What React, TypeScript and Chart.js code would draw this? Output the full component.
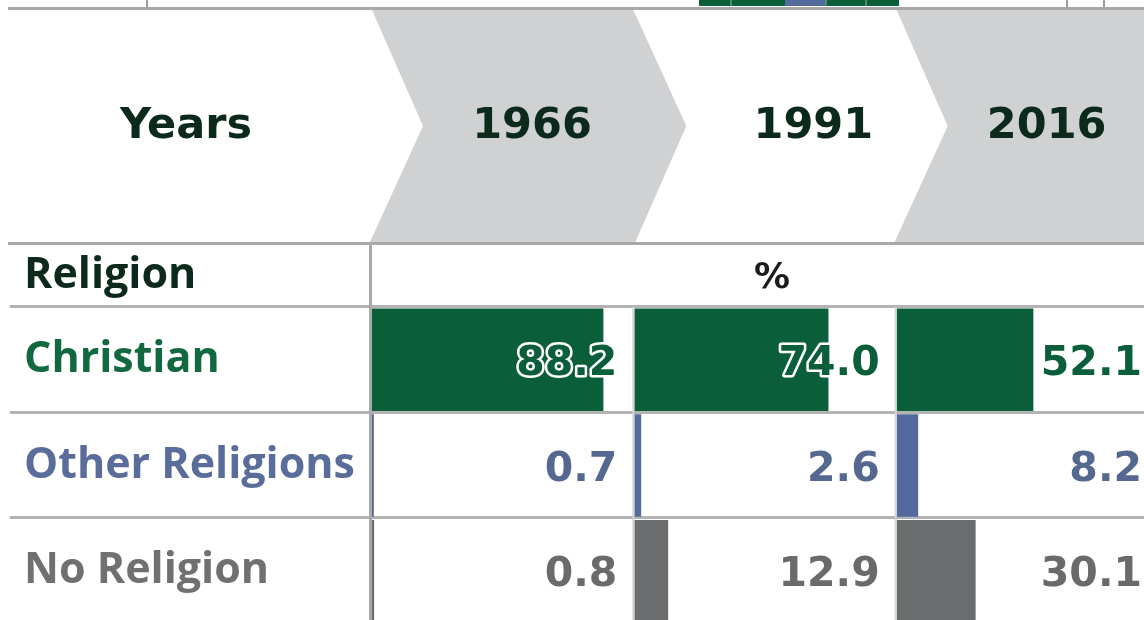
import React, { useEffect, useRef } from 'react';
import { Chart, registerables } from 'chart.js';

Chart.register(...registerables);

// ---- data ----
const years = ['1966', '1991', '2016'];
const religions = ['Christian', 'Other Religions', 'No Religion'];
const christian = [88.2, 74.0, 52.1];
const otherReligions = [0.7, 2.6, 8.2];
const noReligion = [0.8, 12.9, 30.1];
const headerLabel = 'Years';
const rowHeaderLabel = 'Religion';
const unitLabel = '%';

// ---- styles ----
const barColors = ['#0b5e3a', '#536a9c', '#6a6c6e'];
const labelColors = ['#12683f', '#5a6d9a', '#707070'];
const numberColors = ['#0b5e3a', '#55688f', '#6a6a6a'];
const headerText = '#0c2a1b';
const headerGray = '#d0d1d3';
const lineGray = '#b3b3b3';
const NUM_FONT = 'bold 41px "DejaVu Sans"';
const HEAD_FONT = 'bold 43px "DejaVu Sans"';
const LABEL_FAMILY = '"Open Sans"';

const tablePlugin = {
  id: 'tableDecor',
  beforeDraw(chart: any) {
    const ctx = chart.ctx;
    const W = chart.width;
    const xs = [chart.scales.x0, chart.scales.x1, chart.scales.x2];
    const L = xs.map((s: any) => s.left);
    const area = chart.chartArea;
    ctx.save();
    ctx.fillStyle = '#ffffff';
    ctx.fillRect(0, 0, W, chart.height);

    // fragments of the figure above
    ctx.fillStyle = '#9a9a9a';
    ctx.fillRect(146, 0, 2, 8);
    ctx.fillRect(1066, 0, 2, 8);
    ctx.fillRect(1103, 0, 2, 8);
    ctx.fillStyle = '#0b5e3a';
    ctx.fillRect(699, 0, 200, 6);
    ctx.fillStyle = '#536a9c';
    ctx.fillRect(785, 0, 40, 6);
    ctx.fillStyle = '#4f8a6a';
    [730, 825, 865].forEach((x) => ctx.fillRect(x, 0, 2, 6));

    const top = 10;
    const bot = 242;
    const mid = 126;
    const d = 52;
    // chevrons
    ctx.fillStyle = headerGray;
    ctx.beginPath();
    ctx.moveTo(L[0], top);
    ctx.lineTo(L[1] - 1, top);
    ctx.lineTo(L[1] + d, mid);
    ctx.lineTo(L[1] + 1, bot);
    ctx.lineTo(L[0] - 2, bot);
    ctx.lineTo(L[0] + d - 1, mid);
    ctx.closePath();
    ctx.fill();
    ctx.beginPath();
    ctx.moveTo(L[2], top);
    ctx.lineTo(W, top);
    ctx.lineTo(W, bot);
    ctx.lineTo(L[2] - 2, bot);
    ctx.lineTo(L[2] + d - 1, mid);
    ctx.closePath();
    ctx.fill();

    // header lines
    ctx.fillStyle = '#a8a8a8';
    ctx.fillRect(8, 7, W, 3);
    ctx.fillRect(8, 242, W, 3);

    // header texts
    ctx.fillStyle = headerText;
    ctx.font = HEAD_FONT;
    ctx.textAlign = 'center';
    ctx.textBaseline = 'alphabetic';
    ctx.fillText(headerLabel, 186, 138);
    const offs = [160, 179, 150];
    years.forEach((y, i) => ctx.fillText(y, L[i] + offs[i], 138));

    // sub-header
    ctx.textAlign = 'left';
    ctx.font = `bold 43px ${LABEL_FAMILY}`;
    ctx.fillText(rowHeaderLabel, 24, 288);
    ctx.textAlign = 'center';
    ctx.font = 'bold 36px "DejaVu Sans"';
    ctx.fillStyle = '#1c1c1c';
    ctx.fillText(unitLabel, area.left + 400, 288);

    // row lines
    ctx.fillStyle = lineGray;
    const rowH = (area.bottom - area.top) / religions.length;
    for (let r = 0; r < religions.length; r++) {
      const yy = Math.round(area.top + r * rowH) - 2;
      ctx.fillRect(10, yy, W, 3);
    }
    // verticals
    ctx.fillStyle = '#a9a9a9';
    ctx.fillRect(L[0] - 3, 243, 3, chart.height);
    ctx.fillStyle = '#d4d4d4';
    ctx.fillRect(L[1] - 2, area.top, 2, chart.height);
    ctx.fillRect(L[2] - 2, area.top, 2, chart.height);
    ctx.restore();
  },
  afterDatasetsDraw(chart: any) {
    const ctx = chart.ctx;
    ctx.save();
    ctx.font = NUM_FONT;
    ctx.textAlign = 'right';
    ctx.textBaseline = 'alphabetic';
    ctx.lineJoin = 'round';
    chart.data.datasets.forEach((ds: any, i: number) => {
      const meta = chart.getDatasetMeta(i);
      const xs = chart.scales['x' + i];
      meta.data.forEach((el: any, j: number) => {
        const txt = Number(ds.data[j]).toFixed(1);
        const x = xs.right - 17;
        const y = el.y + 15;
        ctx.strokeStyle = '#ffffff';
        ctx.lineWidth = 5;
        ctx.strokeText(txt, x, y);
        ctx.fillStyle = numberColors[j];
        ctx.fillText(txt, x, y);
      });
    });
    ctx.restore();
  },
};

export default function App() {
  const ref = useRef<HTMLCanvasElement | null>(null);
  useEffect(() => {
    if (!ref.current) return;
    const hiddenX = (i: number) => ({
      type: 'linear',
      position: 'bottom',
      stack: 'years',
      stackWeight: 1,
      min: 0,
      max: 100,
      grid: { display: false, drawTicks: false },
      border: { display: false },
      ticks: { display: false },
      afterFit: (s: any) => {
        s.height = 0;
        s.paddingLeft = 0;
        s.paddingRight = 0;
      },
    });
    const chart = new Chart(ref.current, {
      type: 'bar',
      data: {
        labels: religions,
        datasets: years.map((y, i) => ({
          label: y,
          data: [christian[i], otherReligions[i], noReligion[i]],
          backgroundColor: barColors,
          borderWidth: 0,
          xAxisID: 'x' + i,
          grouped: false,
          barPercentage: 1,
          categoryPercentage: 0.97,
        })),
      },
      options: {
        indexAxis: 'y',
        responsive: false,
        animation: false,
        layout: { padding: { left: 24, top: 307, right: 1, bottom: 0 } },
        plugins: {
          legend: { display: false },
          tooltip: { enabled: false },
          title: { display: false },
        },
        scales: {
          y: {
            type: 'category',
            position: 'left',
            afterFit: (s: any) => {
              s.width = 348;
              s.paddingTop = 0;
              s.paddingBottom = 0;
            },
            grid: { display: false, drawTicks: false },
            border: { display: false },
            ticks: {
              crossAlign: 'far',
              padding: 0,
              color: (c: any) => labelColors[c.index],
              font: { family: LABEL_FAMILY, weight: 'bold', size: 43 },
            },
          },
          x0: hiddenX(0),
          x1: hiddenX(1),
          x2: hiddenX(2),
        },
      } as any,
      plugins: [tablePlugin],
    } as any);
    return () => chart.destroy();
  }, []);
  return (
    <div style={{ position: 'fixed', left: 0, top: 0, width: 1144, height: 620, overflow: 'hidden', background: '#fff' }}>
      <canvas ref={ref} width={1160} height={624} style={{ width: 1160, height: 624, display: 'block' }} />
    </div>
  );
}
